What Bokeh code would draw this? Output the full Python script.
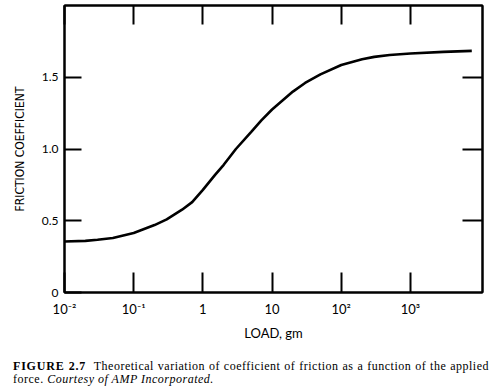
from bokeh.plotting import figure
from bokeh.models import (LogAxis, LinearAxis, FixedTicker, CustomJSTickFormatter,
                          Range1d, Div)
from bokeh.layouts import column
from bokeh.embed import file_html
from bokeh.resources import INLINE

# ---- data ----
load_gm = [0.01, 0.02, 0.03, 0.05, 0.1, 0.2, 0.3, 0.5, 0.7, 1, 1.5, 2, 3, 5, 7,
           10, 20, 30, 50, 100, 200, 300, 500, 1000, 3000, 7700]
friction = [0.355, 0.36, 0.368, 0.38, 0.415, 0.47, 0.51, 0.577, 0.63, 0.715, 0.82,
            0.89, 1.0, 1.12, 1.20, 1.275, 1.40, 1.46, 1.52, 1.585, 1.625, 1.642,
            1.655, 1.665, 1.677, 1.684]

x_ticks = [0.01, 0.1, 1, 10, 100, 1000]
x_tick_labels = ["10\u207b\u00b2", "10\u207b\u00b9", "1", "10", "10\u00b2", "10\u00b3"]
y_ticks = [0, 0.5, 1.0, 1.5]
y_tick_labels = ["0", "0.5", "1.0", "1.5"]
y_inner_ticks = [0.5, 1.0, 1.5]

x_label = "LOAD, gm"
y_label = "FRICTION COEFFICIENT"
cap_bold = "FIGURE 2.7"
cap_line1 = "Theoretical variation of coefficient of friction as a function of the applied"
cap_line2a = "force."
cap_line2b = "Courtesy of AMP Incorporated."

W, H = 492, 360
SANS = "Lato"
SERIF = "Liberation Serif"

p = figure(width=W, height=H, x_axis_type="log",
           x_range=Range1d(0.01, 1.1e4), y_range=Range1d(0, 2),
           output_backend="svg", toolbar_location=None,
           min_border_left=64, min_border_right=W - 482, min_border_top=5,
           min_border_bottom=H - 292)
p.margin = (0, 0, 0, 0)
p.background_fill_color = "white"
p.border_fill_color = "white"
p.outline_line_color = "black"
p.outline_line_width = 2
p.xgrid.visible = False
p.ygrid.visible = False

p.line(load_gm, friction, line_color="black", line_width=2.6)

# bottom axis
xa = p.xaxis[0]
xa.ticker = FixedTicker(ticks=x_ticks)
xa.formatter = CustomJSTickFormatter(args=dict(labels=x_tick_labels),
                                     code="return labels[index];")
xa.major_tick_in = 20
xa.major_tick_out = 0
xa.minor_tick_line_color = None
xa.axis_line_width = 2
xa.major_tick_line_width = 2
xa.major_label_text_font = SANS
xa.major_label_text_font_size = "13px"
xa.major_label_text_color = "black"
xa.major_label_standoff = 8
xa.axis_label = x_label
xa.axis_label_text_font = SANS
xa.axis_label_text_font_size = "13px"
xa.axis_label_text_font_style = "normal"
xa.axis_label_text_color = "black"
xa.axis_label_standoff = 5

# left axis
ya = p.yaxis[0]
ya.ticker = FixedTicker(ticks=y_ticks)
ya.formatter = CustomJSTickFormatter(args=dict(labels=y_tick_labels),
                                     code="return labels[index];")
ya.major_tick_in = 17
ya.major_tick_out = 0
ya.minor_tick_line_color = None
ya.axis_line_width = 2
ya.major_tick_line_width = 2
ya.major_label_text_font = SANS
ya.major_label_text_font_size = "12px"
ya.major_label_text_color = "black"
ya.major_label_standoff = 6
ya.axis_label = y_label
ya.axis_label_text_font = "Liberation Sans Narrow, DejaVu Sans Condensed, Roboto"
ya.axis_label_text_font_size = "12px"
ya.axis_label_text_font_style = "normal"
ya.axis_label_text_color = "black"
ya.axis_label_standoff = 12

# top axis (ticks only)
ta = LogAxis(ticker=FixedTicker(ticks=x_ticks), major_tick_in=19, major_tick_out=0,
             minor_tick_line_color=None, axis_line_width=2, major_tick_line_width=2,
             major_label_text_font_size="1px", major_label_text_color=None,
             major_label_standoff=0)
p.add_layout(ta, "above")

# right axis (ticks only)
ra = LinearAxis(ticker=FixedTicker(ticks=y_inner_ticks), major_tick_in=20, major_tick_out=0,
                minor_tick_line_color=None, axis_line_width=2, major_tick_line_width=2,
                major_label_text_font_size="1px", major_label_text_color=None,
                major_label_standoff=0)
p.add_layout(ra, "right")

# caption
caption_html = (
    f"<div style=\"display:block;width:476px;font-family:'{SERIF}';font-size:12px;"
    f"line-height:13px;color:black;letter-spacing:0.5px;\">"
    f"<div style=\"display:block;width:476px;text-align:justify;text-align-last:justify;\">"
    f"<b style=\"letter-spacing:0.8px\">{cap_bold}</b>&nbsp; {cap_line1}</div>"
    f"<div style=\"display:block;width:476px;\">{cap_line2a} <i>{cap_line2b}</i></div></div>"
)
cap_div = Div(text=caption_html, width=476, height=27, margin=(0, 0, 0, 13))

layout = column(p, cap_div, spacing=0)
layout.margin = (0, 0, 0, 0)

open("out.html", "w").write(file_html(layout, INLINE))
